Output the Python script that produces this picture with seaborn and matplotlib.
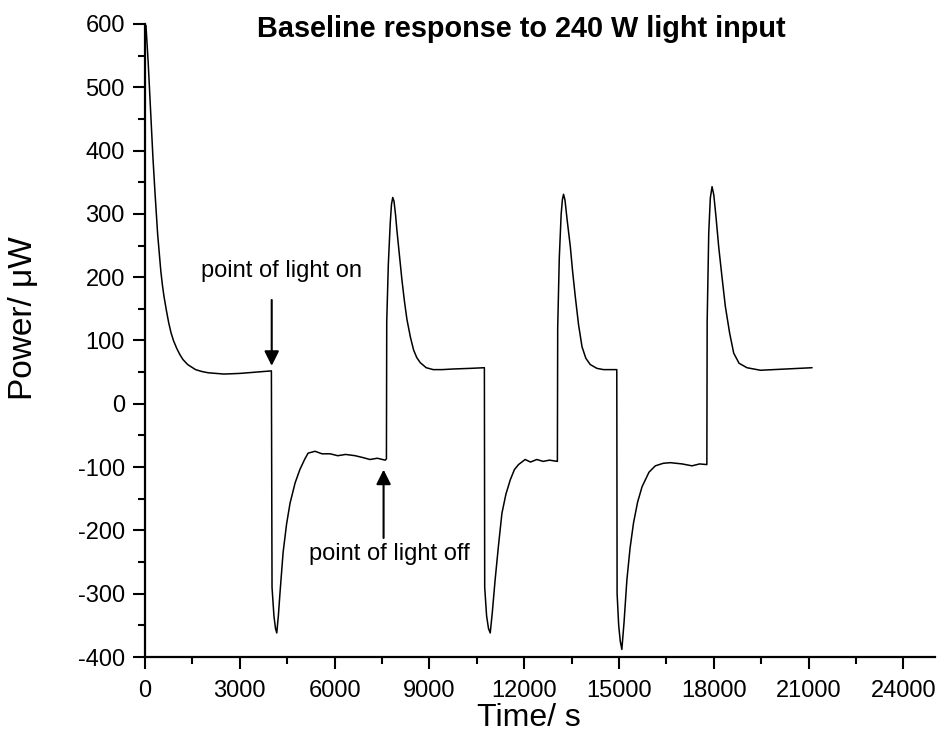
import matplotlib
matplotlib.use("Agg")
import matplotlib.pyplot as plt
import seaborn as sns
import pandas as pd
from matplotlib.ticker import AutoMinorLocator

# ---- data ----
time_s = [30, 70, 100, 160, 200, 250, 317, 400, 450, 500, 550, 600, 675, 750, 825,
          900, 1000, 1100, 1200, 1350, 1600, 1800, 2000, 2500, 3000, 3500, 4000,
          4020, 4080, 4130, 4170, 4220, 4270, 4370, 4480, 4590, 4750, 4900, 5050,
          5160, 5380, 5600, 5860, 6100, 6350, 6650, 6900, 7120, 7350, 7600, 7640,
          7650, 7700, 7760, 7800, 7840, 7880, 7930, 7970, 8050, 8130, 8210, 8290,
          8400, 8500, 8600, 8710, 8900, 9120, 9400, 9760, 10300, 10740,
          10750, 10810, 10870, 10925, 10990, 11080, 11190, 11295, 11420, 11560,
          11690, 11820, 12030, 12200, 12400, 12600, 12800, 13050,
          13060, 13110, 13170, 13210, 13245, 13290, 13360, 13460, 13530, 13615,
          13720, 13830, 13950, 14090, 14300, 14510, 14930,
          14940, 14990, 15040, 15090, 15160, 15250, 15350, 15460, 15590, 15730,
          15950, 16150, 16400, 16625, 17000, 17310, 17550, 17780,
          17790, 17840, 17890, 17945, 18000, 18070, 18155, 18260, 18365, 18500,
          18630, 18800, 19050, 19475, 19900, 20320, 21110]
power_uW = [598, 565, 540, 480, 440, 390, 333, 268, 238, 210, 188, 170, 148, 128, 112,
            100, 88, 78, 70, 62, 54, 51, 49, 47, 48, 50, 52,
            -290, -335, -355, -362, -335, -300, -235, -190, -157, -125, -104, -88,
            -78, -75, -79, -79, -82, -80, -82, -85, -88, -86, -89, -87,
            130, 220, 285, 315, 326, 320, 298, 275, 235, 196, 162, 133,
            105, 85, 73, 65, 57, 54, 54, 55, 56, 57,
            -290, -335, -355, -362, -330, -278, -222, -173, -143, -120,
            -104, -96, -88, -92, -88, -91, -89, -91,
            120, 230, 300, 323, 331, 322, 290, 248, 210, 170,
            125, 90, 72, 62, 56, 54, 54,
            -300, -350, -375, -388, -345, -278, -228, -188, -155, -131,
            -108, -98, -94, -93, -95, -98, -95, -96,
            130, 270, 325, 343, 330, 295, 248, 200, 154, 112,
            80, 64, 57, 53, 54, 55, 57]

x_ticks = [0, 3000, 6000, 9000, 12000, 15000, 18000, 21000, 24000]
y_ticks = [-400, -300, -200, -100, 0, 100, 200, 300, 400, 500, 600]

title_text = "Baseline response to 240 W light input"
x_label = "Time/ s"
y_label = "Power/ \u03bcW"
ann_on = "point of light on"
ann_off = "point of light off"

df = pd.DataFrame({"Time": time_s, "Power": power_uW})

sns.set_style("ticks")
plt.rcParams["font.family"] = ["Liberation Sans", "DejaVu Sans"]
plt.rcParams["axes.unicode_minus"] = False
plt.rcParams["text.color"] = "black"
plt.rcParams["axes.labelcolor"] = "black"
plt.rcParams["xtick.color"] = "black"
plt.rcParams["ytick.color"] = "black"

fig = plt.figure(figsize=(9.39, 7.47), dpi=100)
ax = fig.add_axes([145 / 939, 1 - 657 / 747, 790 / 939, 633 / 747])

sns.lineplot(data=df, x="Time", y="Power", ax=ax, color="black",
             linewidth=1.1, sort=False, estimator=None)

ax.set_xlim(0, 25000)
ax.set_ylim(-400, 600)
ax.set_xticks(x_ticks)
ax.set_yticks(y_ticks)
ax.xaxis.set_minor_locator(AutoMinorLocator(2))
ax.yaxis.set_minor_locator(AutoMinorLocator(2))

for side in ["top", "right"]:
    ax.spines[side].set_visible(False)
for side in ["left", "bottom"]:
    ax.spines[side].set_linewidth(1.6)
    ax.spines[side].set_color("black")

ax.tick_params(axis="both", which="major", direction="out", length=8.5,
               width=1.5, colors="black", labelsize=17, pad=6)
ax.tick_params(axis="x", which="major", pad=8)
ax.tick_params(axis="both", which="minor", direction="out", length=5,
               width=1.5, colors="black")

ax.set_xlabel(x_label, fontsize=23, va="baseline")
ax.set_ylabel(y_label, fontsize=24, va="center")
ax.xaxis.set_label_coords((529 - 145) / 790, (657 - 726) / 633)
ax.yaxis.set_label_coords((24 - 145) / 790, (657 - 318) / 633)

fig.text(521.5 / 939, 1 - 37 / 747, title_text, ha="center", va="baseline",
         fontsize=20.8, fontweight="bold")

arrow_kw = dict(arrowstyle="-|>", color="black", lw=1.5, mutation_scale=22,
                shrinkA=0, shrinkB=0)
ax.annotate("", xy=(4010, 60), xytext=(4010, 164), arrowprops=arrow_kw)
ax.annotate("", xy=(7550, -104), xytext=(7550, -212), arrowprops=arrow_kw)
ax.text(4330, 210, ann_on, ha="center", va="center", fontsize=17)
ax.text(7730, -238, ann_off, ha="center", va="center", fontsize=17)

fig.savefig("out.png", dpi=100)
